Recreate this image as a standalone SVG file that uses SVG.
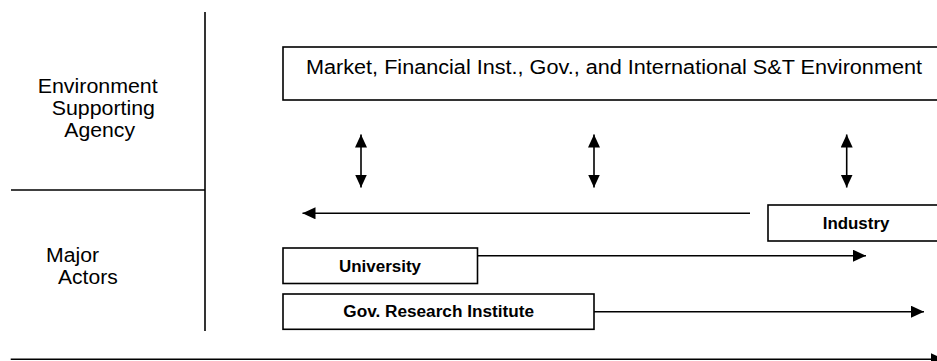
<svg xmlns="http://www.w3.org/2000/svg" width="937" height="361" viewBox="0 0 937 361">
  <style>
    .line { stroke: #000; stroke-width: 1.6; fill: none; }
    .box { stroke: #000; stroke-width: 1.6; fill: #fff; }
    .lbl { font-family: "Liberation Sans", Arial, sans-serif; font-size: 19.5px; fill: #000; }
    .blbl { font-family: "Liberation Sans", Arial, sans-serif; font-size: 16px; font-weight: bold; fill: #000; }
  </style>
  <defs>
    <marker id="ah" markerUnits="userSpaceOnUse" markerWidth="14" markerHeight="13" refX="13" refY="6" orient="auto-start-reverse">
      <path d="M0,0 L13,6 L0,12 z" fill="#000"/>
    </marker>
  </defs>
  <rect width="937" height="361" fill="#fff"/>

  <g id="frame">
    <line class="line" x1="205" y1="12" x2="205" y2="331"/>
    <line class="line" x1="11" y1="190" x2="205" y2="190"/>
  </g>

  <g id="row-labels">
    <text class="lbl" x="37.7" y="92.7" textLength="120" lengthAdjust="spacingAndGlyphs">Environment</text>
    <text class="lbl" x="51.7" y="114.5" textLength="103.3" lengthAdjust="spacingAndGlyphs">Supporting</text>
    <text class="lbl" x="64.3" y="136.5" textLength="70.7" lengthAdjust="spacingAndGlyphs">Agency</text>
    <text class="lbl" x="46" y="261.7" textLength="53" lengthAdjust="spacingAndGlyphs">Major</text>
    <text class="lbl" x="58" y="284.3" textLength="59.7" lengthAdjust="spacingAndGlyphs">Actors</text>
  </g>

  <g id="environment">
    <rect class="box" x="283" y="47" width="680" height="53"/>
    <text class="lbl" x="306" y="74" textLength="616" lengthAdjust="spacingAndGlyphs">Market, Financial Inst., Gov., and International S&amp;T Environment</text>
  </g>

  <g id="industry">
    <rect class="box" x="768" y="205" width="200" height="36"/>
    <text class="blbl" x="822.7" y="229.3" textLength="66.7" lengthAdjust="spacingAndGlyphs">Industry</text>
  </g>

  <g id="university">
    <rect class="box" x="283" y="248" width="194.5" height="35.5"/>
    <text class="blbl" x="339" y="271.7" textLength="82" lengthAdjust="spacingAndGlyphs">University</text>
  </g>

  <g id="gov-research-institute">
    <rect class="box" x="283" y="294" width="311" height="35.3"/>
    <text class="blbl" x="343.3" y="316.7" textLength="190.7" lengthAdjust="spacingAndGlyphs">Gov. Research Institute</text>
  </g>

  <g id="connectors">
    <line class="line" x1="361" y1="134.5" x2="361" y2="187.5" marker-start="url(#ah)" marker-end="url(#ah)"/>
    <line class="line" x1="594" y1="134.5" x2="594" y2="187.5" marker-start="url(#ah)" marker-end="url(#ah)"/>
    <line class="line" x1="846.7" y1="134.5" x2="846.7" y2="187.5" marker-start="url(#ah)" marker-end="url(#ah)"/>
    <line class="line" x1="750" y1="213.3" x2="302.5" y2="213.3" marker-end="url(#ah)"/>
    <line class="line" x1="477.5" y1="255.7" x2="866" y2="255.7" marker-end="url(#ah)"/>
    <line class="line" x1="594" y1="311.7" x2="924" y2="311.7" marker-end="url(#ah)"/>
    <line class="line" x1="10.7" y1="359.3" x2="944" y2="359.3" marker-end="url(#ah)"/>
  </g>
</svg>
